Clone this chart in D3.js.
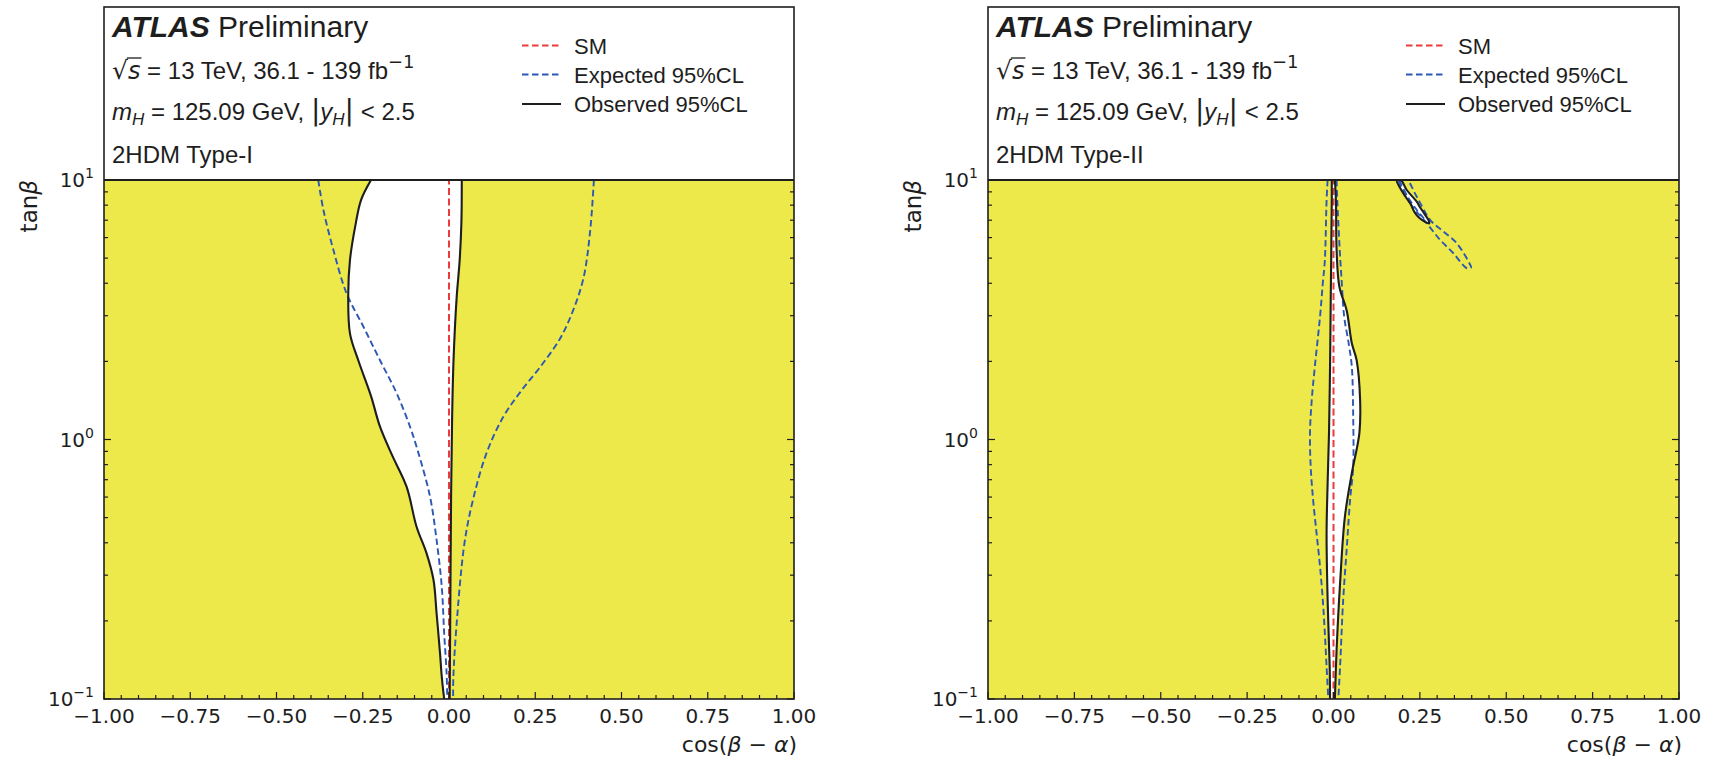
<!DOCTYPE html>
<html>
<head>
<meta charset="utf-8">
<script src="https://cdn.jsdelivr.net/npm/d3@7"></script>
<style>
  body { margin: 0; background: #fff; }
  svg { display: block; }
</style>
</head>
<body>
<svg id="chart" width="1717" height="760"></svg>
<script>
// ---- data: [cos(beta-alpha), tan(beta)] ----
var xTickValues = [-1, -0.75, -0.5, -0.25, 0, 0.25, 0.5, 0.75, 1];
var yTickValues = [0.1, 1, 10];
var yTickExponents = ["\u22121", "0", "1"];
var smLine = [[0, 0.1], [0, 10]];

// Type-I
var typeIObsLeft = [[-0.226,10],[-0.255,8.37],[-0.272,6.61],[-0.287,4.92],[-0.292,3.66],[-0.287,2.56],
  [-0.263,2.02],[-0.226,1.47],[-0.2,1.12],[-0.165,0.87],[-0.123,0.658],[-0.094,0.461],[-0.065,0.364],
  [-0.045,0.288],[-0.036,0.214],[-0.026,0.15],[-0.021,0.122],[-0.014,0.1]];
var typeIObsRight = [[0.037,10],[0.036,6.9],[0.031,4.92],[0.022,3.5],[0.013,2.0],[0.009,1.2],[0.006,0.6],
  [0.004,0.25],[0.002,0.1]];
var typeIExpLeft = [[-0.379,10],[-0.364,7.66],[-0.335,5.37],[-0.297,3.66],[-0.248,2.72],[-0.2,2.02],
  [-0.152,1.51],[-0.113,1.12],[-0.09,0.9],[-0.055,0.602],[-0.036,0.41],[-0.021,0.271],[-0.014,0.179],
  [-0.007,0.126],[-0.005,0.1]];
var typeIExpRight = [[0.42,10],[0.409,6.34],[0.39,4.2],[0.36,3.15],[0.322,2.45],[0.264,1.9],[0.206,1.52],
  [0.157,1.22],[0.109,0.888],[0.07,0.589],[0.045,0.4],[0.022,0.194],[0.0125,0.12],[0.012,0.1]];

// Type-II
var typeIIObsLeft = [[-0.005,10],[-0.005,8.37],[-0.008,3.45],[-0.01,1.91],[-0.013,1.06],[-0.017,0.678],
  [-0.02,0.435],[-0.017,0.241],[-0.011,0.133],[-0.01,0.1]];
var typeIIObsRight = [[0.004,10],[0.007,8.37],[0.009,5.37],[0.017,3.88],[0.038,3.15],[0.053,2.35],
  [0.067,2.02],[0.077,1.42],[0.075,1.06],[0.053,0.741],[0.033,0.504],[0.019,0.279],[0.009,0.155],[0.004,0.1]];
var typeIIExpLeft = [[-0.017,10],[-0.02,8.37],[-0.025,4.92],[-0.031,4.0],[-0.039,2.97],[-0.054,1.91],
  [-0.063,1.42],[-0.068,1.06],[-0.066,0.786],[-0.059,0.585],[-0.049,0.435],[-0.039,0.324],[-0.031,0.241],
  [-0.025,0.179],[-0.02,0.133],[-0.015,0.1]];
var typeIIExpRight = [[0.009,10],[0.011,8.37],[0.017,5.7],[0.024,4.0],[0.031,2.97],[0.045,2.3],[0.053,1.91],
  [0.057,1.22],[0.057,0.786],[0.048,0.585],[0.038,0.375],[0.028,0.241],[0.019,0.133],[0.014,0.1]];
var typeIIObsIsland = [[0.183,10],[0.202,8.89],[0.222,8.13],[0.235,7.5],[0.248,7.15],[0.265,6.9],[0.277,6.8],
  [0.275,7.0],[0.262,7.45],[0.25,7.87],[0.241,8.25],[0.212,9.15],[0.195,10]];
var typeIIExpIsland = [[0.19,10],[0.222,8.13],[0.27,6.81],[0.309,5.87],[0.347,5.22],[0.386,4.57],[0.398,4.6],
  [0.396,4.7],[0.357,5.7],[0.319,6.32],[0.28,7.01],[0.241,8.62],[0.212,10]];
var typeIIExpIslandInner = [[0.19,10],[0.215,8.6],[0.24,7.7],[0.262,7.1]];

var legendLabels = ["SM", "Expected 95%CL", "Observed 95%CL"];

// ---- layout ----
var frameTop = 7, plotTop = 180, plotBottom = 699;
var yellow = "#eee94a", red = "#ec3b3b", blue = "#2c58b4", ink = "#1e1e1e";

var panels = [
  { left: 104, right: 794, model: "2HDM Type-I",
    obsL: typeIObsLeft, obsR: typeIObsRight, expL: typeIExpLeft, expR: typeIExpRight,
    islands: [], expIslands: [], expOpen: [] },
  { left: 988, right: 1679, model: "2HDM Type-II",
    obsL: typeIIObsLeft, obsR: typeIIObsRight, expL: typeIIExpLeft, expR: typeIIExpRight,
    islands: [typeIIObsIsland], expIslands: [typeIIExpIsland], expOpen: [typeIIExpIslandInner] }
];

var svg = d3.select("#chart");

function richText(g, x, y, parts, size, family) {
  var t = g.append("text").attr("x", x).attr("y", y)
    .attr("font-family", family).attr("font-size", size).attr("fill", ink);
  parts.forEach(function (p) {
    var s = t.append("tspan").text(p.t);
    if (p.italic) s.attr("font-style", "italic");
    if (p.bold) s.attr("font-weight", "bold");
    if (p.size) s.attr("font-size", p.size);
    if (p.dy) s.attr("dy", p.dy);
    if (p.font) s.attr("font-family", p.font);
  });
  return t;
}

panels.forEach(function (p, i) {
  var x = d3.scaleLinear().domain([-1, 1]).range([p.left, p.right]);
  var y = d3.scaleLog().domain([0.1, 10]).range([plotBottom, plotTop]);
  var g = svg.append("g");

  svg.append("clipPath").attr("id", "clip" + i).append("rect")
    .attr("x", p.left).attr("y", plotTop).attr("width", p.right - p.left).attr("height", plotBottom - plotTop);
  var plot = g.append("g").attr("clip-path", "url(#clip" + i + ")");

  plot.append("rect").attr("x", p.left).attr("y", plotTop)
    .attr("width", p.right - p.left).attr("height", plotBottom - plotTop).attr("fill", yellow);

  var line = d3.line().x(function (d) { return x(d[0]); }).y(function (d) { return y(d[1]); })
    .curve(d3.curveCatmullRom.alpha(0.5));
  var closed = d3.line().x(function (d) { return x(d[0]); }).y(function (d) { return y(d[1]); })
    .curve(d3.curveCatmullRomClosed.alpha(0.5));

  // allowed (white) region between observed boundaries
  var L = p.obsL, R = p.obsR.slice().reverse();
  var region = [[L[0][0], 14]].concat(L, [[L[L.length - 1][0], 0.09], [R[0][0], 0.09]], R, [[R[R.length - 1][0], 14]]);
  plot.append("path").attr("d", line(region) + "Z").attr("fill", "#fff");
  p.islands.forEach(function (isl) {
    plot.append("path").attr("d", closed(isl)).attr("fill", "#fff");
  });

  // SM
  plot.append("path").attr("d", line(smLine)).attr("fill", "none")
    .attr("stroke", red).attr("stroke-width", 2).attr("stroke-dasharray", "7,3.5");

  // expected
  [p.expL, p.expR].concat(p.expOpen).forEach(function (c) {
    plot.append("path").attr("d", line(c)).attr("fill", "none")
      .attr("stroke", blue).attr("stroke-width", 1.9).attr("stroke-dasharray", "6.5,3.5");
  });
  p.expIslands.forEach(function (c) {
    plot.append("path").attr("d", closed(c)).attr("fill", "none")
      .attr("stroke", blue).attr("stroke-width", 1.9).attr("stroke-dasharray", "6.5,3.5");
  });

  // observed
  [p.obsL, p.obsR].forEach(function (c) {
    plot.append("path").attr("d", line(c)).attr("fill", "none")
      .attr("stroke", ink).attr("stroke-width", 2.1);
  });
  p.islands.forEach(function (c) {
    plot.append("path").attr("d", closed(c)).attr("fill", "none")
      .attr("stroke", ink).attr("stroke-width", 2.1);
  });

  // frame
  g.append("rect").attr("x", p.left).attr("y", frameTop)
    .attr("width", p.right - p.left).attr("height", plotBottom - frameTop)
    .attr("fill", "none").attr("stroke", ink).attr("stroke-width", 1.6);
  g.append("line").attr("x1", p.left).attr("x2", p.right).attr("y1", plotTop).attr("y2", plotTop)
    .attr("stroke", ink).attr("stroke-width", 1.8);

  // x ticks
  var xMinor = d3.range(-20, 21).map(function (k) { return k * 0.05; });
  xMinor.forEach(function (v) {
    var major = Math.abs(v * 4 - Math.round(v * 4)) < 1e-6;
    g.append("line").attr("x1", x(v)).attr("x2", x(v))
      .attr("y1", plotBottom).attr("y2", plotBottom - (major ? 7 : 4))
      .attr("stroke", ink).attr("stroke-width", 1.2);
  });
  var fmt = d3.format(".2f");
  g.selectAll(".xl").data(xTickValues).enter().append("text")
    .attr("x", function (d) { return x(d); }).attr("y", 723)
    .attr("text-anchor", "middle").attr("font-family", "DejaVu Sans").attr("font-size", 20)
    .attr("fill", ink).text(function (d) { return fmt(d); });

  // y ticks
  y.ticks().forEach(function (v) {
    var major = Math.abs(Math.log10(v) - Math.round(Math.log10(v))) < 1e-9;
    var len = major ? 7 : 4;
    g.append("line").attr("x1", p.left).attr("x2", p.left + len).attr("y1", y(v)).attr("y2", y(v))
      .attr("stroke", ink).attr("stroke-width", 1.2);
    g.append("line").attr("x1", p.right).attr("x2", p.right - len).attr("y1", y(v)).attr("y2", y(v))
      .attr("stroke", ink).attr("stroke-width", 1.2);
  });
  yTickValues.forEach(function (v, k) {
    var t = g.append("text").attr("x", p.left - 10).attr("y", y(v) + 7)
      .attr("text-anchor", "end").attr("font-family", "DejaVu Sans").attr("font-size", 20).attr("fill", ink);
    t.append("tspan").text("10");
    t.append("tspan").attr("font-size", 14).attr("dy", -9).text(yTickExponents[k]);
  });

  // axis labels
  var xl = g.append("text").attr("x", p.right + 3).attr("y", 752).attr("text-anchor", "end")
    .attr("font-family", "DejaVu Sans").attr("font-size", 22).attr("fill", ink);
  xl.append("tspan").text("cos(");
  xl.append("tspan").attr("font-style", "italic").text("\u03b2");
  xl.append("tspan").text(" \u2212 ");
  xl.append("tspan").attr("font-style", "italic").text("\u03b1");
  xl.append("tspan").text(")");

  var yl = g.append("text").attr("transform", "translate(" + (p.left - 67) + "," + plotTop + ") rotate(-90)")
    .attr("text-anchor", "end").attr("font-family", "DejaVu Sans").attr("font-size", 23).attr("fill", ink);
  yl.append("tspan").text("tan");
  yl.append("tspan").attr("font-style", "italic").text("\u03b2");

  // text block
  var tx = p.left + 8;
  richText(g, tx, 37, [{ t: "ATLAS", bold: true, italic: true }, { t: " Preliminary" }], 30, "Liberation Sans");
  var s2 = richText(g, tx, 79, [{ t: "\u221a", font: "DejaVu Sans", size: 25 }, { t: "s", italic: true, font: "DejaVu Sans" },
    { t: " = 13 TeV, 36.1 - 139 fb" },
    { t: "\u22121", size: 18, dy: -11, font: "DejaVu Sans" }], 24, "Liberation Sans");
  var n = s2.node();
  var sx0 = n.getEndPositionOfChar(0).x, sx1 = n.getEndPositionOfChar(1).x;
  g.append("line").attr("x1", sx0 - 1).attr("x2", sx1 + 1).attr("y1", 79 - 21).attr("y2", 79 - 21)
    .attr("stroke", ink).attr("stroke-width", 1.3);
  richText(g, tx, 120, [{ t: "m", italic: true }, { t: "H", italic: true, size: 17, dy: 5 },
    { t: " = 125.09 GeV, ", dy: -5 }, { t: "|", font: "DejaVu Sans", size: 28 }, { t: "y", italic: true },
    { t: "H", italic: true, size: 17, dy: 5 }, { t: "|", font: "DejaVu Sans", size: 28, dy: -5 },
    { t: " < 2.5" }], 24, "Liberation Sans");
  richText(g, tx, 163, [{ t: p.model }], 24, "Liberation Sans");

  // legend
  var lx0 = p.left + 418, lx1 = p.left + 457, ltx = p.left + 470;
  var legY = [45.5, 74.5, 104];
  var styles = [{ c: red, dash: "6.5,3.5" }, { c: blue, dash: "6.5,3.5" }, { c: ink, dash: null }];
  legendLabels.forEach(function (lab, k) {
    var ln = g.append("line").attr("x1", lx0).attr("x2", lx1).attr("y1", legY[k]).attr("y2", legY[k])
      .attr("stroke", styles[k].c).attr("stroke-width", 2);
    if (styles[k].dash) ln.attr("stroke-dasharray", styles[k].dash);
    g.append("text").attr("x", ltx).attr("y", legY[k] + 8).attr("font-family", "Liberation Sans")
      .attr("font-size", 22).attr("fill", ink).text(lab);
  });
});
</script>
</body>
</html>
